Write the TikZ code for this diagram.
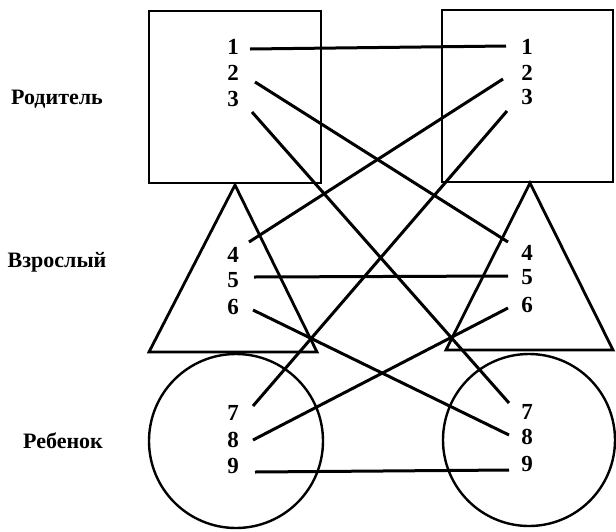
\documentclass[tikz,border=0pt]{standalone}
\usepackage{fontspec}
\setmainfont{Liberation Serif}
\begin{document}
\begin{tikzpicture}[x=1pt,y=-1pt,
  outline/.style={line width=2.8pt},
  conn/.style={line width=3pt},
  num/.style={font=\fontsize{23}{23}\selectfont\bfseries, inner sep=0pt},
  lab/.style={font=\fontsize{22}{22}\selectfont\bfseries, inner sep=0pt}]
\useasboundingbox (0,0) rectangle (616,531);
% shapes
\draw[outline] (149,11) rectangle (321,183);
\draw[outline] (442,10) rectangle (613,182);
\draw[outline,line join=miter] (235,185) -- (317,352) -- (149,352) -- cycle;
\draw[outline,line join=miter] (530,183) -- (613,350) -- (446,350) -- cycle;
\draw[line width=2.4pt] (236,441) circle (87);
\draw[line width=2.4pt] (529,440) circle (86);
% labels
\node[lab] (par) at (57,99) {Родитель};
\node[lab] (adu) at (57,262) {Взрослый};
\node[lab] (chi) at (63,441) {Ребенок};
% numbers
\foreach \n/\y in {1/47,2/73,3/99,4/255,5/280,6/307,7/413,8/440,9/466}
  \node[num] (l\n) at (233,\y) {\n};
\foreach \n/\y in {1/47,2/73,3/97,4/253,5/277,6/305,7/412,8/437,9/464}
  \node[num] (r\n) at (527,\y) {\n};
% connector ends
\coordinate (a1) at (250,49);  \coordinate (b1) at (506,46);
\coordinate (a2) at (255,82);  \coordinate (b2) at (503,79);
\coordinate (a3) at (252,112); \coordinate (b3) at (507,111);
\coordinate (a4) at (249,242); \coordinate (b4) at (508,242);
\coordinate (a5) at (254,277); \coordinate (b5) at (508,276);
\coordinate (a6) at (253,310); \coordinate (b6) at (508,308);
\coordinate (a7) at (253,406); \coordinate (b7) at (509,403);
\coordinate (a8) at (253,440); \coordinate (b8) at (509,435);
\coordinate (a9) at (255,472); \coordinate (b9) at (509,470);
% connectors
\draw[conn] (a1) -- (b1);
\draw[conn] (a2) -- (b4);
\draw[conn] (a3) -- (b7);
\draw[conn] (b2) -- (a4);
\draw[conn] (b3) -- (a7);
\draw[conn] (a5) -- (b5);
\draw[conn] (a6) -- (b8);
\draw[conn] (b6) -- (a8);
\draw[conn] (a9) -- (b9);
\end{tikzpicture}
\end{document}
